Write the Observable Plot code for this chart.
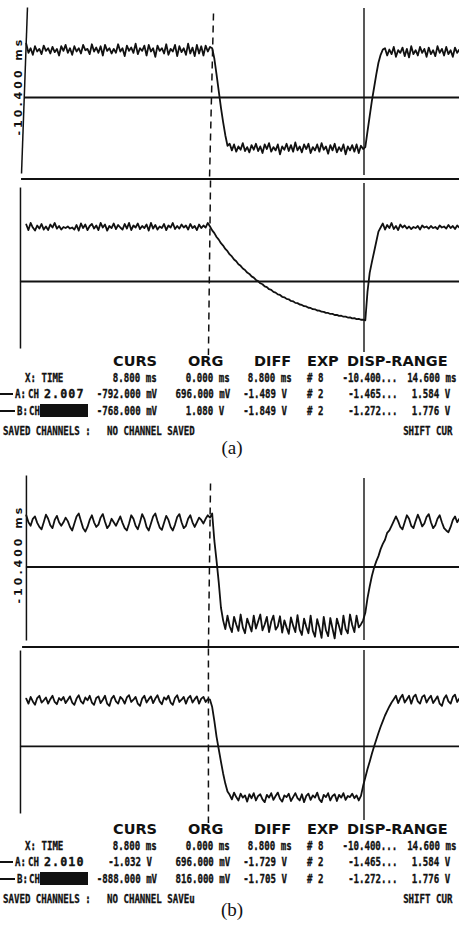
<!DOCTYPE html>
<html><head><meta charset="utf-8">
<script src="https://cdn.jsdelivr.net/npm/d3@7"></script>
<script src="https://cdn.jsdelivr.net/npm/@observablehq/plot@0.6"></script>
<style>
html,body{margin:0;padding:0;background:#fff;}
#page{position:relative;width:459px;height:926px;overflow:hidden;background:#fff;}
.c{position:absolute;font:bold 13px "DejaVu Sans Mono";white-space:pre;line-height:13px;color:#111;-webkit-text-stroke:0.35px #111;}
.r{transform:scaleX(0.7);transform-origin:right center;}
.l{transform:scaleX(0.7);transform-origin:left center;}
.w{letter-spacing:1.2px;transform:scaleX(0.9);transform-origin:left center;}
.h{position:absolute;font:bold 14.5px "DejaVu Sans";line-height:14.5px;color:#111;white-space:pre;}
.box{position:absolute;background:#111;}
.dash{position:absolute;background:#111;height:1.6px;}
.cap{position:absolute;font:19px "Liberation Serif";line-height:19px;color:#111;transform:translateX(-50%);}
</style></head><body><div id="page"></div><script>
// ---- sampling of the digitiser (ms) ----
const T0 = -10.5, DT = 0.125;
const ORG_T = 0, CURSOR_T = 8.8;
const RANGE_LABEL = "-10.400 ms";

// ---- (a) channel A, mV ----
const aA_high1 = [
770,630,700,600,730,650,690,610,740,660,
700,620,720,640,690,590,730,660,750,630,
700,600,730,650,700,620,750,670,690,610,
760,650,710,630,730,590,750,660,700,620,
690,630,760,650,700,580,740,660,710,630,
770,610,700,660,740,590,750,650,700,570,
740,660,700,620,760,600,690,650,750,580,
730,640,700,600,770,620,710,580,750,620,
730,590,740,650,720,700];
const aA_fall = [540,300,50,-200,-420,-620,-780];
const aA_low = [
-750,-850,-760,-870,-790,-840,-740,-860,-800,-880,
-770,-840,-750,-860,-790,-890,-760,-830,-740,-870,
-800,-850,-760,-910,-790,-840,-750,-860,-770,-870,
-730,-850,-790,-880,-760,-830,-750,-890,-800,-850,
-760,-870,-740,-840,-790,-900,-770,-850,-750,-880,
-800,-860,-760,-910,-790,-850,-770,-870,-760,-890,
-780,-830];
const aA_rise = [-800,-560,-330,-100,100,300,480,600,680];
const aA_high2 = [
700,590,680,610,720,570,670,630,710,580,
690,560,730,610,670,590,720,630,690,570,
710,610,670,580,730,630,690,590,720,610,
670,570,710,630,680,610];

// ---- (a) channel B, mV ----
const aB_high1 = [
1120,1010,1150,1060,1000,1100,1040,1130,1020,1080,
1010,1120,1060,1150,1040,1090,1020,1070,1050,1080,
1040,1060,1020,1110,1000,1140,1050,1120,1010,1090,
1130,1040,1100,1010,1150,1060,1120,1000,1090,1050,
1140,1030,1110,1060,1020,1130,1040,1150,1010,1100,
1060,1140,1030,1090,1050,1120,1000,1150,1040,1110,
1020,1080,1050,1130,1010,1100,1060,1150,1030,1090,
1040,1120,1060,1100,1020,1130,1050,1090,1010,1120,
1050,1100,1060,1150];
const aB_decay = [
1080,1005,950,875,822,752,705,640,595,532,
492,433,398,340,308,255,226,175,148,100,
76,30,8,-35,-54,-95,-112,-152,-166,-204,
-218,-253,-265,-300,-310,-342,-350,-382,-390,-420,
-425,-452,-460,-486,-490,-516,-520,-544,-546,-570,
-572,-594,-596,-616,-618,-638,-637,-658,-655,-676,
-673,-692,-690,-708,-705,-724,-720,-738,-734,-752,
-748,-762];
const aB_rise = [-200,170,380,580,780,980];
const aB_high2 = [
1060,1140,1020,1110,1050,1150,1030,1090,1010,1120,
1060,1100,1040,1080,1030,1070,1050,1090,1020,1100,
1060,1080,1040,1090,1050,1070,1030,1100,1060,1080,
1040,1110,1050,1090,1030,1100,1060,1080];

// ---- (b) channel A, mV ----
const bA_high1 = [
820,700,640,760,800,690,620,580,700,830,
760,650,600,740,810,700,640,700,780,720,
620,560,680,800,850,720,600,540,620,740,
820,700,620,660,780,840,710,600,650,760,
700,640,720,800,690,600,560,680,820,760,
640,580,700,840,760,620,560,680,800,850,
720,610,570,690,810,740,620,560,660,790,
840,700,600,640,760,820,700,620,700,780,
740,680,760,820,780,850];
const bA_fall = [380,40,-330,-760];
const bA_low = [
-980,-1130,-900,-1080,-1180,-920,-1050,-1160,-880,-1100,
-1200,-950,-1060,-1170,-900,-1120,-1000,-880,-1150,-1050,
-920,-1180,-1000,-900,-1140,-1080,-910,-1190,-980,-1100,
-1210,-930,-1070,-1180,-890,-1140,-1230,-950,-1090,-1200,
-900,-1160,-1260,-960,-1100,-1280,-920,-1150,-1250,-940,
-1120,-1290,-950,-1080,-1220,-900,-1130,-1200,-880,-1060,
-1180,-900,-1100,-1050,-980];
const bA_rise = [-850,-600,-400,-220,-80,30,120,240,330,400,520,560,640,720];
const bA_high2 = [
800,720,620,580,700,820,760,640,600,720,
830,740,630,680,790,840,700,600,650,760,
820,700,600,560,530,620,740,800,700,760,
820];

// ---- (b) channel B, mV ----
const bB_high1 = [
850,760,880,800,740,860,900,780,820,870,
760,840,900,790,750,860,820,880,770,830,
890,780,740,850,910,800,760,870,820,900,
780,740,860,890,770,830,900,760,720,850,
900,800,760,880,840,760,870,910,790,830,
880,760,720,850,900,780,840,890,770,850,
910,800,750,870,830,900,780,740,860,910,
790,830,880,760,860,900,780,840,890,760,
850,880,790,840,830];
const bB_fall = [700,450,170,-50,-270,-480,-660,-800];
const bB_low = [
-860,-940,-820,-900,-960,-840,-910,-870,-980,-850,
-920,-830,-960,-880,-850,-940,-990,-860,-910,-830,
-950,-880,-820,-930,-980,-870,-900,-840,-970,-900,
-830,-920,-960,-850,-990,-880,-840,-950,-870,-910,
-820,-940,-990,-860,-900,-830,-960,-880,-850,-970,
-860,-910,-830,-950,-880,-900,-840,-920,-870,-960,
-880];
const bB_rise = [-700,-550,-400,-270,-130,0,120,240,350,450,550,630,710,780,840];
const bB_high2 = [
900,770,860,920,780,840,900,760,880,920,
800,760,880,910,780,850,900,770,830,890,
760,720,850,910,800,760,880,920,790,850,
900];

const aA = [...aA_high1, ...aA_fall, ...aA_low, ...aA_rise, ...aA_high2];
const aB = [...aB_high1, ...aB_decay, ...aB_rise, ...aB_high2];
const bA = [...bA_high1, ...bA_fall, ...bA_low, ...bA_rise, ...bA_high2];
const bB = [...bB_high1, ...bB_fall, ...bB_low, ...bB_rise, ...bB_high2];

// ---- readout table ----
const HEADERS = ["CURS", "ORG", "DIFF", "EXP", "DISP-RANGE"];
const EXP = ["# 8", "# 2", "# 2"];
const LO = ["-10.400...", "-1.465...", "-1.272..."];
const HI = ["14.600 ms", "1.584 V ", "1.776 V "];
const aCurs = ["8.800 ms", "-792.000 mV", "-768.000 mV"];
const aOrg = ["0.000 ms", "696.000 mV", "1.080 V "];
const aDiff = ["8.800 ms", "-1.489 V ", "-1.849 V "];
const bCurs = ["8.800 ms", "-1.032 V ", "-888.000 mV"];
const bOrg = ["0.000 ms", "696.000 mV", "816.000 mV"];
const bDiff = ["8.800 ms", "-1.729 V ", "-1.705 V "];

// ---- layout ----
const W = 459, INK = "#111";
const XDOM = [-10.4, 14.6], XRANGE = [27.5, 465];
const PANELS = [
 {top:0, height:180, trace:aA, ydom:[-1307,1424], ref:-48, refX1:-10.6,
  axis:{t1:-10.43, v1:1318, t2:-10.77, v2:-1201},
  dash:{t1:0.2, v1:1227, t2:-0.03, v2:-1307},
  cursor:[1303,-1231], sep:{v:-1292, x1:-10.77}, label:{t:-10.93, v:-624}},
 {top:180, height:175, trace:aB, ydom:[-1454,1984], ref:0, refX1:-10.83,
  axis:{t1:-10.83, v1:1846, t2:-10.83, v2:-1317},
  dash:{t1:0.03, v1:1984, t2:-0.09, v2:-1454},
  cursor:[1925,-1395]},
 {top:468, height:180, trace:bA, ydom:[-1462,1621], ref:-66, refX1:-10.49,
  axis:{t1:-10.49, v1:1501, t2:-10.49, v2:-1325},
  dash:{t1:0.03, v1:1364, t2:-0.09, v2:-1462},
  cursor:[1449,-1325], sep:{v:-1444, x1:-10.71}, label:{t:-10.93, v:-691}},
 {top:648, height:175, trace:bB, ydom:[-1369,1740], ref:0, refX1:-10.83,
  axis:{t1:-10.83, v1:1704, t2:-10.83, v2:-1191},
  dash:{t1:-0.09, v1:1740, t2:-0.09, v2:-1369},
  cursor:[1704,-1315]}
];

const page = document.getElementById("page");

function panel(p) {
  const data = p.trace.map((v, i) => ({t: T0 + i * DT, v}));
  const marks = [
    Plot.ruleY([{v: p.ref, x1: p.refX1, x2: 15}], {y: "v", x1: "x1", x2: "x2", stroke: INK, strokeWidth: 1.8}),
    Plot.link([p.axis], {x1: "t1", y1: "v1", x2: "t2", y2: "v2", stroke: INK, strokeWidth: 1.5}),
    Plot.link([p.dash], {x1: "t1", y1: "v1", x2: "t2", y2: "v2", stroke: INK, strokeWidth: 1.5, strokeDasharray: "7,5"}),
    Plot.ruleX([{t: CURSOR_T, y1: p.cursor[0], y2: p.cursor[1]}], {x: "t", y1: "y1", y2: "y2", stroke: INK, strokeWidth: 1.4}),
    Plot.line(data, {x: "t", y: "v", stroke: INK, strokeWidth: 1.8})
  ];
  if (p.sep) marks.push(Plot.ruleY([{v: p.sep.v, x1: p.sep.x1, x2: 15}], {y: "v", x1: "x1", x2: "x2", stroke: INK, strokeWidth: 3}));
  if (p.label) marks.push(Plot.text([{...p.label, s: RANGE_LABEL}], {x: "t", y: "v", text: "s", rotate: -90, textAnchor: "start", fontSize: 11, fontWeight: "bold", fontFamily: "DejaVu Sans", fill: INK}));
  const svg = Plot.plot({
    width: W, height: p.height, margin: 0,
    x: {domain: XDOM, range: XRANGE, axis: null},
    y: {domain: p.ydom, axis: null},
    style: "background:#fff;overflow:hidden;letter-spacing:3px;",
    marks
  });
  svg.style.position = "absolute";
  svg.style.top = p.top + "px";
  svg.style.left = "0px";
  page.appendChild(svg);
}
PANELS.forEach(panel);

// ---- readout text blocks ----
const HDR_Y = 361, HDR_X = [113, 188, 254, 307, 347];
const ROW_Y = [377, 393, 410], FOOT_Y = 430, CAP_X = 232;
const COL_R = {curs: 157, org: 230, diff: 292, lo: 397, hi: 456};
const EXP_X = 307;
const FIGS = [
  {dy: 0, capY: 448, curs: aCurs, org: aOrg, diff: aDiff, chA: "2.007", saved: "NO CHANNEL SAVED", cap: "(a)"},
  {dy: 468, capY: 910, curs: bCurs, org: bOrg, diff: bDiff, chA: "2.010", saved: "NO CHANNEL SAVEu", cap: "(b)"}
];
function put(cls, text, css) {
  const e = document.createElement("div");
  e.className = cls;
  if (text != null) e.textContent = text;
  Object.assign(e.style, css);
  page.appendChild(e);
}
FIGS.forEach(f => {
  HEADERS.forEach((h, i) => put("h", h, {left: HDR_X[i] + "px", top: (HDR_Y + f.dy - 7) + "px"}));
  ROW_Y.forEach((y0, r) => {
    const top = (y0 + f.dy - 6.5) + "px";
    put("c r", f.curs[r], {right: (W - COL_R.curs) + "px", top});
    put("c r", f.org[r], {right: (W - COL_R.org) + "px", top});
    put("c r", f.diff[r], {right: (W - COL_R.diff) + "px", top});
    put("c l", EXP[r], {left: EXP_X + "px", top});
    put("c r", LO[r], {right: (W - COL_R.lo) + "px", top});
    put("c r", HI[r], {right: (W - COL_R.hi) + "px", top});
  });
  const t0 = (ROW_Y[0] + f.dy - 6.5) + "px";
  const t1 = (ROW_Y[1] + f.dy - 6.5) + "px";
  const t2 = (ROW_Y[2] + f.dy - 6.5) + "px";
  put("c l", "X: TIME", {left: "25px", top: t0});
  put("dash", null, {left: "0px", width: "13px", top: (ROW_Y[1] + f.dy) + "px"});
  put("c l", "A:", {left: "15px", top: t1});
  put("c l", "CH", {left: "28px", top: t1});
  put("c w", f.chA, {left: "44px", top: t1});
  put("dash", null, {left: "0px", width: "15px", top: (ROW_Y[2] + f.dy) + "px"});
  put("c l", "B:", {left: "17px", top: t2});
  put("c l", "CH", {left: "29px", top: t2});
  put("box", null, {left: "40px", width: "48px", top: (ROW_Y[2] + f.dy - 6) + "px", height: "13px"});
  const tf = (FOOT_Y + f.dy - 6.5) + "px";
  put("c l", "SAVED CHANNELS :", {left: "3px", top: tf});
  put("c l", f.saved, {left: "107px", top: tf});
  put("c r", "SHIFT CUR", {right: (W - 452) + "px", top: tf});
  put("cap", f.cap, {left: CAP_X + "px", top: (f.capY - 10) + "px"});
});
</script></body></html>
